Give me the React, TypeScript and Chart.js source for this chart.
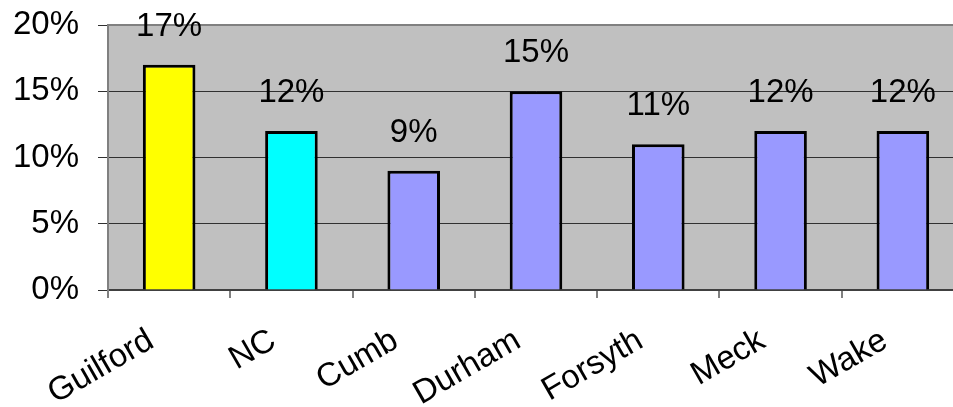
import React, { useEffect, useRef } from "react";
import { Chart, registerables } from "chart.js";

Chart.register(...registerables);

const categories = ["Guilford", "NC", "Cumb", "Durham", "Forsyth", "Meck", "Wake"];
const values = [17, 12, 9, 15, 11, 12, 12];
const barColors = ["#ffff00", "#00ffff", "#9999ff", "#9999ff", "#9999ff", "#9999ff", "#9999ff"];
const yMax = 20;
const yStep = 5;

const FONT = "'Liberation Sans', Arial, sans-serif";

const bgPlugin = {
  id: "plotBg",
  beforeDraw(chart: any) {
    const { ctx, chartArea } = chart;
    ctx.save();
    ctx.fillStyle = "#c0c0c0";
    ctx.fillRect(chartArea.left, chartArea.top, chartArea.right - chartArea.left, chartArea.bottom - chartArea.top);
    ctx.restore();
  },
  beforeDatasetsDraw(chart: any) {
    const { ctx, chartArea } = chart;
    ctx.save();
    ctx.strokeStyle = "#808080";
    ctx.lineWidth = 2;
    ctx.beginPath();
    ctx.moveTo(chartArea.left, chartArea.top);
    ctx.lineTo(chartArea.right, chartArea.top);
    ctx.stroke();
    ctx.restore();
  },
  afterDatasetsDraw(chart: any) {
    const { ctx } = chart;
    const meta = chart.getDatasetMeta(0);
    ctx.save();
    ctx.font = `33px ${FONT}`;
    ctx.fillStyle = "#000";
    ctx.textAlign = "center";
    ctx.textBaseline = "alphabetic";
    meta.data.forEach((bar: any, i: number) => {
      ctx.fillText(values[i] + "%", bar.x, bar.y - 29);
    });
    ctx.restore();
  },
};

export default function App() {
  const ref = useRef<HTMLCanvasElement>(null);
  useEffect(() => {
    if (!ref.current) return;
    const chart = new Chart(ref.current, {
      type: "bar",
      data: {
        labels: categories,
        datasets: [
          {
            data: values,
            backgroundColor: barColors,
            borderColor: "#000",
            borderWidth: 3,
            barPercentage: 0.43,
            categoryPercentage: 1,
          },
        ],
      },
      options: {
        animation: false,
        responsive: false,
        devicePixelRatio: 1,
        layout: { padding: { top: 25, right: 0, left: 0, bottom: 0 } },
        plugins: { legend: { display: false }, tooltip: { enabled: false } },
        scales: {
          x: {
            grid: { offset: true, drawOnChartArea: false, drawTicks: true, tickLength: 8, color: "#808080", lineWidth: 2 },
            border: { display: true, color: "#404040", width: 2 },
            ticks: {
              autoSkip: false,
              maxRotation: 30,
              minRotation: 30,
              padding: 23,
              labelOffset: -18,
              color: "#000",
              font: { size: 33, family: FONT },
            },
            afterFit(scale: any) {
              scale.height = 117;
            },
          },
          y: {
            min: 0,
            max: yMax,
            ticks: {
              stepSize: yStep,
              padding: 19,
              color: "#000",
              font: { size: 33, family: FONT },
              callback: (v: any) => v + "%",
            },
            grid: { color: "#303030", lineWidth: 1, tickLength: 10, drawTicks: true },
            border: { display: true, color: "#808080", width: 2 },
            afterFit(scale: any) {
              scale.width = 108;
              scale.paddingTop = 0;
              scale.paddingBottom = 0;
            },
          },
        },
      },
      plugins: [bgPlugin],
    });
    return () => chart.destroy();
  }, []);
  return (
    <div style={{ position: "absolute", left: 0, top: 0, width: 953, height: 407, overflow: "hidden", background: "#fff" }}>
      <canvas ref={ref} width={964} height={407} style={{ width: 964, height: 407, display: "block" }} />
    </div>
  );
}
